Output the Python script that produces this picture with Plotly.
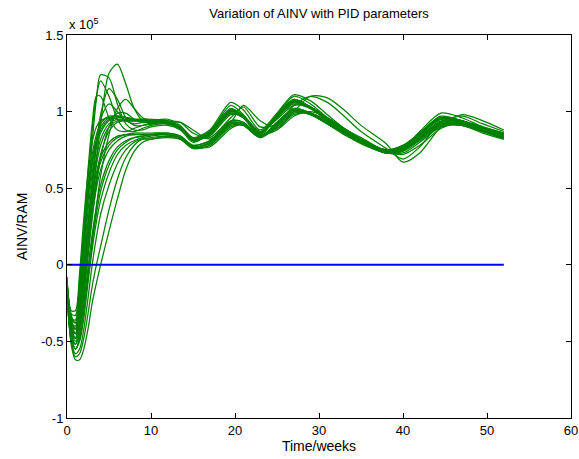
import plotly.graph_objects as go

# time samples (weeks)
T_EARLY = [0, 0.5, 1, 1.5, 2, 2.5, 3, 3.5, 4, 5, 6, 7, 8, 9]
T_LATE = [10, 12, 13.5, 15, 17, 19.5, 21, 23, 25, 27, 29, 31, 33, 35, 38, 40, 42, 44.5, 47, 49.5, 52]

# AINV/RAM (x 1e5), early transient per run
AINV_EARLY = [
    [-0.12, -0.35, -0.45, -0.38, -0.15, 0.12, 0.40, 0.68, 0.92, 1.25, 1.31, 1.18, 1.02, 0.94],
    [-0.12, -0.38, -0.42, -0.22, 0.10, 0.45, 0.80, 1.08, 1.24, 1.22, 1.05, 0.92, 0.88, 0.88],
    [-0.10, -0.35, -0.38, -0.15, 0.20, 0.55, 0.88, 1.10, 1.20, 1.10, 0.95, 0.88, 0.87, 0.89],
    [-0.08, -0.32, -0.33, -0.10, 0.25, 0.62, 0.92, 1.10, 1.10, 0.96, 0.88, 0.87, 0.89, 0.91],
    [-0.12, -0.40, -0.45, -0.30, -0.05, 0.25, 0.55, 0.80, 0.95, 1.05, 1.00, 0.94, 0.92, 0.93],
    [-0.15, -0.42, -0.50, -0.40, -0.20, 0.05, 0.30, 0.52, 0.70, 0.90, 0.99, 0.99, 0.95, 0.93],
    [-0.15, -0.45, -0.55, -0.48, -0.30, -0.08, 0.15, 0.38, 0.58, 0.85, 1.02, 1.08, 1.02, 0.96],
    [-0.14, -0.40, -0.48, -0.35, -0.10, 0.20, 0.50, 0.78, 0.98, 1.15, 1.08, 0.96, 0.91, 0.91],
    [-0.12, -0.38, -0.40, -0.20, 0.12, 0.42, 0.65, 0.80, 0.88, 0.95, 0.97, 0.96, 0.95, 0.95],
    [-0.10, -0.35, -0.36, -0.12, 0.20, 0.50, 0.72, 0.85, 0.92, 0.97, 0.97, 0.96, 0.95, 0.95],
    [-0.14, -0.40, -0.45, -0.30, -0.02, 0.28, 0.52, 0.70, 0.82, 0.92, 0.95, 0.95, 0.94, 0.94],
    [-0.12, -0.42, -0.48, -0.35, -0.10, 0.18, 0.45, 0.65, 0.78, 0.90, 0.94, 0.95, 0.95, 0.94],
    [-0.16, -0.45, -0.52, -0.42, -0.20, 0.08, 0.35, 0.56, 0.72, 0.87, 0.93, 0.94, 0.94, 0.94],
    [-0.08, -0.30, -0.30, -0.05, 0.30, 0.60, 0.80, 0.90, 0.94, 0.96, 0.95, 0.94, 0.94, 0.94],
    [-0.13, -0.36, -0.42, -0.25, 0.05, 0.35, 0.60, 0.76, 0.86, 0.94, 0.96, 0.96, 0.95, 0.94],
    [-0.11, -0.33, -0.38, -0.18, 0.15, 0.45, 0.68, 0.82, 0.90, 0.96, 0.97, 0.96, 0.95, 0.94],
    [-0.12, -0.38, -0.42, -0.25, 0.00, 0.25, 0.45, 0.60, 0.70, 0.80, 0.84, 0.85, 0.85, 0.85],
    [-0.14, -0.42, -0.48, -0.35, -0.12, 0.12, 0.33, 0.50, 0.62, 0.75, 0.81, 0.84, 0.85, 0.85],
    [-0.16, -0.45, -0.52, -0.45, -0.25, -0.02, 0.20, 0.38, 0.52, 0.68, 0.77, 0.81, 0.83, 0.84],
    [-0.18, -0.48, -0.55, -0.50, -0.35, -0.12, 0.10, 0.28, 0.42, 0.60, 0.72, 0.78, 0.81, 0.83],
    [-0.18, -0.50, -0.58, -0.55, -0.42, -0.22, 0.00, 0.18, 0.33, 0.52, 0.66, 0.75, 0.80, 0.82],
    [-0.20, -0.50, -0.60, -0.58, -0.48, -0.32, -0.14, 0.00, 0.12, 0.36, 0.56, 0.70, 0.78, 0.82],
    [-0.20, -0.52, -0.62, -0.62, -0.55, -0.42, -0.25, -0.12, 0.00, 0.22, 0.43, 0.62, 0.74, 0.80],
    [-0.13, -0.40, -0.45, -0.32, -0.08, 0.18, 0.40, 0.56, 0.67, 0.78, 0.83, 0.85, 0.86, 0.86],
    [-0.16, -0.46, -0.55, -0.48, -0.30, -0.08, 0.15, 0.33, 0.48, 0.65, 0.75, 0.80, 0.83, 0.84],
]

# AINV/RAM (x 1e5), later behaviour per run
AINV_LATE = [
    [0.92, 0.93, 0.90, 0.82, 0.87, 1.04, 0.98, 0.86, 0.98, 1.10, 1.05, 0.96, 0.88, 0.81, 0.74, 0.77, 0.86, 0.97, 0.94, 0.89, 0.85],
    [0.90, 0.91, 0.88, 0.80, 0.86, 1.02, 0.96, 0.85, 0.98, 1.08, 1.03, 0.95, 0.87, 0.80, 0.74, 0.77, 0.86, 0.96, 0.93, 0.88, 0.84],
    [0.91, 0.92, 0.89, 0.81, 0.85, 0.99, 0.96, 0.86, 0.97, 1.06, 1.02, 0.95, 0.88, 0.81, 0.75, 0.78, 0.85, 0.95, 0.93, 0.89, 0.85],
    [0.92, 0.93, 0.90, 0.83, 0.86, 1.00, 0.97, 0.87, 0.97, 1.07, 1.03, 0.96, 0.89, 0.82, 0.75, 0.78, 0.86, 0.96, 0.94, 0.89, 0.85],
    [0.94, 0.95, 0.91, 0.83, 0.88, 1.06, 1.01, 0.88, 0.99, 1.11, 1.07, 0.98, 0.89, 0.81, 0.73, 0.76, 0.87, 0.99, 0.96, 0.90, 0.86],
    [0.93, 0.94, 0.93, 0.86, 0.83, 0.96, 1.03, 0.90, 0.92, 1.04, 1.10, 1.06, 0.97, 0.87, 0.76, 0.69, 0.77, 0.93, 0.97, 0.92, 0.87],
    [0.94, 0.93, 0.93, 0.88, 0.82, 0.93, 1.04, 0.94, 0.89, 1.00, 1.10, 1.09, 1.01, 0.91, 0.79, 0.67, 0.73, 0.90, 0.98, 0.94, 0.88],
    [0.92, 0.93, 0.90, 0.82, 0.86, 1.01, 0.97, 0.86, 0.97, 1.07, 1.03, 0.95, 0.88, 0.81, 0.75, 0.77, 0.85, 0.96, 0.94, 0.89, 0.85],
    [0.95, 0.94, 0.90, 0.82, 0.87, 1.02, 0.97, 0.86, 0.98, 1.08, 1.03, 0.95, 0.88, 0.81, 0.74, 0.77, 0.86, 0.96, 0.94, 0.89, 0.85],
    [0.94, 0.93, 0.89, 0.81, 0.86, 1.01, 0.96, 0.85, 0.97, 1.07, 1.02, 0.94, 0.87, 0.80, 0.74, 0.77, 0.85, 0.96, 0.93, 0.88, 0.84],
    [0.94, 0.93, 0.90, 0.82, 0.85, 1.00, 0.97, 0.86, 0.96, 1.06, 1.03, 0.95, 0.88, 0.81, 0.75, 0.77, 0.85, 0.95, 0.94, 0.89, 0.85],
    [0.93, 0.92, 0.89, 0.81, 0.85, 0.99, 0.96, 0.86, 0.96, 1.05, 1.02, 0.95, 0.88, 0.81, 0.75, 0.77, 0.84, 0.94, 0.93, 0.89, 0.85],
    [0.93, 0.92, 0.89, 0.82, 0.84, 0.98, 0.97, 0.87, 0.95, 1.04, 1.03, 0.96, 0.89, 0.82, 0.75, 0.76, 0.83, 0.93, 0.94, 0.90, 0.86],
    [0.93, 0.93, 0.89, 0.81, 0.86, 1.01, 0.96, 0.85, 0.97, 1.07, 1.02, 0.94, 0.87, 0.80, 0.74, 0.77, 0.86, 0.96, 0.93, 0.88, 0.84],
    [0.94, 0.93, 0.90, 0.82, 0.86, 1.00, 0.96, 0.86, 0.97, 1.06, 1.02, 0.95, 0.88, 0.81, 0.75, 0.77, 0.85, 0.95, 0.93, 0.89, 0.85],
    [0.94, 0.94, 0.90, 0.82, 0.87, 1.02, 0.97, 0.86, 0.98, 1.07, 1.03, 0.95, 0.88, 0.81, 0.74, 0.77, 0.86, 0.96, 0.94, 0.89, 0.85],
    [0.85, 0.86, 0.84, 0.78, 0.81, 0.94, 0.93, 0.84, 0.93, 1.02, 0.99, 0.93, 0.86, 0.80, 0.73, 0.76, 0.83, 0.93, 0.92, 0.87, 0.83],
    [0.85, 0.85, 0.83, 0.77, 0.80, 0.93, 0.92, 0.84, 0.92, 1.01, 0.99, 0.93, 0.86, 0.80, 0.73, 0.75, 0.82, 0.92, 0.92, 0.87, 0.83],
    [0.85, 0.85, 0.83, 0.77, 0.79, 0.92, 0.92, 0.84, 0.91, 1.00, 0.99, 0.93, 0.86, 0.80, 0.73, 0.75, 0.82, 0.91, 0.91, 0.87, 0.83],
    [0.84, 0.85, 0.83, 0.77, 0.79, 0.92, 0.91, 0.83, 0.91, 1.00, 0.98, 0.92, 0.86, 0.80, 0.73, 0.75, 0.82, 0.91, 0.91, 0.87, 0.83],
    [0.83, 0.84, 0.82, 0.76, 0.78, 0.91, 0.91, 0.83, 0.90, 0.99, 0.98, 0.92, 0.85, 0.80, 0.73, 0.74, 0.81, 0.90, 0.91, 0.87, 0.82],
    [0.82, 0.84, 0.82, 0.76, 0.78, 0.90, 0.91, 0.84, 0.89, 0.98, 0.99, 0.94, 0.87, 0.81, 0.73, 0.73, 0.80, 0.90, 0.92, 0.88, 0.83],
    [0.82, 0.83, 0.82, 0.77, 0.77, 0.89, 0.92, 0.85, 0.88, 0.97, 1.00, 0.96, 0.89, 0.83, 0.74, 0.72, 0.78, 0.89, 0.93, 0.89, 0.84],
    [0.86, 0.86, 0.84, 0.78, 0.81, 0.94, 0.93, 0.84, 0.93, 1.02, 0.99, 0.93, 0.86, 0.80, 0.73, 0.76, 0.83, 0.93, 0.92, 0.87, 0.83],
    [0.85, 0.85, 0.83, 0.77, 0.80, 0.93, 0.92, 0.84, 0.92, 1.01, 0.98, 0.92, 0.85, 0.79, 0.73, 0.75, 0.82, 0.92, 0.91, 0.86, 0.82],
]

# zero reference line
BASE_T = [0, 52]
BASE_Y = [0, 0]

X_TICKS = [0, 10, 20, 30, 40, 50, 60]
Y_TICKS = [-1, -0.5, 0, 0.5, 1, 1.5]
Y_TICK_TEXT = ["-1", "-0.5", "0", "0.5", "1", "1.5"]

FONT = "Liberation Sans, Arial, sans-serif"

fig = go.Figure()
t_all = T_EARLY + T_LATE
for early, late in zip(AINV_EARLY, AINV_LATE):
    fig.add_trace(go.Scatter(
        x=t_all, y=early + late, mode="lines",
        line=dict(color="#008000", width=1.25, shape="spline", smoothing=0.8),
        hoverinfo="skip", showlegend=False))

fig.add_trace(go.Scatter(
    x=BASE_T, y=BASE_Y, mode="lines",
    line=dict(color="#0000ff", width=2), hoverinfo="skip", showlegend=False))

axis_common = dict(
    showline=True, linecolor="black", linewidth=1, mirror="ticks",
    ticks="inside", ticklen=5, tickcolor="black", showgrid=False,
    zeroline=False, automargin=False,
    tickfont=dict(family=FONT, size=13, color="black"))

fig.update_xaxes(range=[0, 60], tickvals=X_TICKS,
                 title=dict(text="Time/weeks", font=dict(family=FONT, size=14, color="black"), standoff=2),
                 **axis_common)
fig.update_yaxes(range=[-1, 1.5], tickvals=Y_TICKS, ticktext=Y_TICK_TEXT,
                 title=dict(text="AINV/RAM", font=dict(family=FONT, size=14, color="black"), standoff=10),
                 **axis_common)

fig.update_layout(
    width=579, height=459,
    margin=dict(l=67, r=8, t=35, b=41),
    paper_bgcolor="white", plot_bgcolor="white",
    hovermode=False,
    title=dict(text="Variation of AINV with PID parameters", x=0.551, xanchor="center",
               y=0.9717, yanchor="middle", xref="container", yref="container",
               font=dict(family=FONT, size=13, color="black")),
    annotations=[dict(text="x 10<sup>5</sup>", xref="paper", yref="paper",
                      x=0, y=1, xanchor="left", yanchor="bottom", yshift=1,
                      showarrow=False, font=dict(family=FONT, size=13, color="black"))],
)

# remove the default page margin so the figure fills the window exactly
fig.write_html("out.html",
               config={"displayModeBar": False},
               post_script="document.body.style.margin='0';document.body.style.overflow='hidden';")
